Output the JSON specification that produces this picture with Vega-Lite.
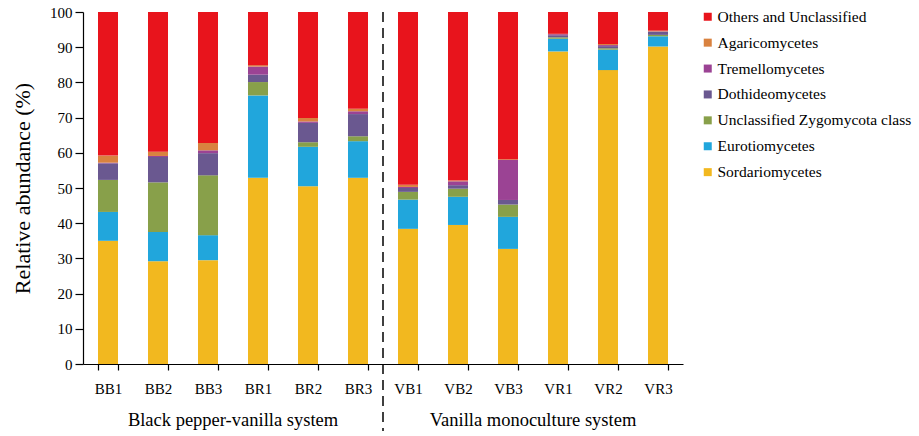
{
  "$schema": "https://vega.github.io/schema/vega-lite/v6.json",
  "autosize": "none",
  "width": 600,
  "height": 352,
  "padding": {"left": 83, "top": 12, "right": 236, "bottom": 72},
  "background": "white",
  "config": {
    "view": {"stroke": null},
    "font": "Liberation Serif",
    "axis": {"labelFont": "Liberation Serif", "titleFont": "Liberation Serif", "domainColor": "black", "tickColor": "black", "labelColor": "black", "titleColor": "black", "grid": false},
    "axisY": {"title": "Relative abundance  (%)", "titleFontSize": 22, "titleFontWeight": "normal", "labelFontSize": 15, "labelOverlap": false, "tickSize": 8, "labelPadding": 3, "titlePadding": 15, "domainWidth": 1.2, "tickWidth": 1.2},
    "legend": {"labelFont": "Liberation Serif"}
  },
  "datasets": {
    "ab": [
      {"s":"BB1","c":"Sordariomycetes","v":35.0,"k":1},{"s":"BB1","c":"Eurotiomycetes","v":8.2,"k":2},{"s":"BB1","c":"Unclassified Zygomycota class","v":9.1,"k":3},{"s":"BB1","c":"Dothideomycetes","v":4.7,"k":4},{"s":"BB1","c":"Tremellomycetes","v":0.2,"k":5},{"s":"BB1","c":"Agaricomycetes","v":2.0,"k":6},{"s":"BB1","c":"Others and Unclassified","v":40.8,"k":7},
      {"s":"BB2","c":"Sordariomycetes","v":29.2,"k":1},{"s":"BB2","c":"Eurotiomycetes","v":8.3,"k":2},{"s":"BB2","c":"Unclassified Zygomycota class","v":14.1,"k":3},{"s":"BB2","c":"Dothideomycetes","v":7.2,"k":4},{"s":"BB2","c":"Tremellomycetes","v":0.3,"k":5},{"s":"BB2","c":"Agaricomycetes","v":1.2,"k":6},{"s":"BB2","c":"Others and Unclassified","v":39.7,"k":7},
      {"s":"BB3","c":"Sordariomycetes","v":29.5,"k":1},{"s":"BB3","c":"Eurotiomycetes","v":7.1,"k":2},{"s":"BB3","c":"Unclassified Zygomycota class","v":17.0,"k":3},{"s":"BB3","c":"Dothideomycetes","v":6.3,"k":4},{"s":"BB3","c":"Tremellomycetes","v":0.8,"k":5},{"s":"BB3","c":"Agaricomycetes","v":2.1,"k":6},{"s":"BB3","c":"Others and Unclassified","v":37.2,"k":7},
      {"s":"BR1","c":"Sordariomycetes","v":52.9,"k":1},{"s":"BR1","c":"Eurotiomycetes","v":23.4,"k":2},{"s":"BR1","c":"Unclassified Zygomycota class","v":3.8,"k":3},{"s":"BR1","c":"Dothideomycetes","v":2.1,"k":4},{"s":"BR1","c":"Tremellomycetes","v":2.3,"k":5},{"s":"BR1","c":"Agaricomycetes","v":0.4,"k":6},{"s":"BR1","c":"Others and Unclassified","v":15.1,"k":7},
      {"s":"BR2","c":"Sordariomycetes","v":50.5,"k":1},{"s":"BR2","c":"Eurotiomycetes","v":11.2,"k":2},{"s":"BR2","c":"Unclassified Zygomycota class","v":1.3,"k":3},{"s":"BR2","c":"Dothideomycetes","v":5.5,"k":4},{"s":"BR2","c":"Tremellomycetes","v":0.4,"k":5},{"s":"BR2","c":"Agaricomycetes","v":1.0,"k":6},{"s":"BR2","c":"Others and Unclassified","v":30.1,"k":7},
      {"s":"BR3","c":"Sordariomycetes","v":52.9,"k":1},{"s":"BR3","c":"Eurotiomycetes","v":10.4,"k":2},{"s":"BR3","c":"Unclassified Zygomycota class","v":1.4,"k":3},{"s":"BR3","c":"Dothideomycetes","v":6.3,"k":4},{"s":"BR3","c":"Tremellomycetes","v":0.8,"k":5},{"s":"BR3","c":"Agaricomycetes","v":0.7,"k":6},{"s":"BR3","c":"Others and Unclassified","v":27.5,"k":7},
      {"s":"VB1","c":"Sordariomycetes","v":38.4,"k":1},{"s":"VB1","c":"Eurotiomycetes","v":8.3,"k":2},{"s":"VB1","c":"Unclassified Zygomycota class","v":2.2,"k":3},{"s":"VB1","c":"Dothideomycetes","v":1.1,"k":4},{"s":"VB1","c":"Tremellomycetes","v":0.3,"k":5},{"s":"VB1","c":"Agaricomycetes","v":0.6,"k":6},{"s":"VB1","c":"Others and Unclassified","v":49.1,"k":7},
      {"s":"VB2","c":"Sordariomycetes","v":39.5,"k":1},{"s":"VB2","c":"Eurotiomycetes","v":8.0,"k":2},{"s":"VB2","c":"Unclassified Zygomycota class","v":2.3,"k":3},{"s":"VB2","c":"Dothideomycetes","v":1.0,"k":4},{"s":"VB2","c":"Tremellomycetes","v":1.1,"k":5},{"s":"VB2","c":"Agaricomycetes","v":0.2,"k":6},{"s":"VB2","c":"Others and Unclassified","v":47.9,"k":7},
      {"s":"VB3","c":"Sordariomycetes","v":32.7,"k":1},{"s":"VB3","c":"Eurotiomycetes","v":9.1,"k":2},{"s":"VB3","c":"Unclassified Zygomycota class","v":3.5,"k":3},{"s":"VB3","c":"Dothideomycetes","v":1.3,"k":4},{"s":"VB3","c":"Tremellomycetes","v":11.4,"k":5},{"s":"VB3","c":"Agaricomycetes","v":0.2,"k":6},{"s":"VB3","c":"Others and Unclassified","v":41.8,"k":7},
      {"s":"VR1","c":"Sordariomycetes","v":88.8,"k":1},{"s":"VR1","c":"Eurotiomycetes","v":3.6,"k":2},{"s":"VR1","c":"Unclassified Zygomycota class","v":0.4,"k":3},{"s":"VR1","c":"Dothideomycetes","v":0.6,"k":4},{"s":"VR1","c":"Tremellomycetes","v":0.3,"k":5},{"s":"VR1","c":"Agaricomycetes","v":0.1,"k":6},{"s":"VR1","c":"Others and Unclassified","v":6.2,"k":7},
      {"s":"VR2","c":"Sordariomycetes","v":83.5,"k":1},{"s":"VR2","c":"Eurotiomycetes","v":5.8,"k":2},{"s":"VR2","c":"Unclassified Zygomycota class","v":0.4,"k":3},{"s":"VR2","c":"Dothideomycetes","v":0.6,"k":4},{"s":"VR2","c":"Tremellomycetes","v":0.3,"k":5},{"s":"VR2","c":"Agaricomycetes","v":0.3,"k":6},{"s":"VR2","c":"Others and Unclassified","v":9.1,"k":7},
      {"s":"VR3","c":"Sordariomycetes","v":90.2,"k":1},{"s":"VR3","c":"Eurotiomycetes","v":2.9,"k":2},{"s":"VR3","c":"Unclassified Zygomycota class","v":0.4,"k":3},{"s":"VR3","c":"Dothideomycetes","v":0.9,"k":4},{"s":"VR3","c":"Tremellomycetes","v":0.1,"k":5},{"s":"VR3","c":"Agaricomycetes","v":0.2,"k":6},{"s":"VR3","c":"Others and Unclassified","v":5.3,"k":7}
    ],
    "grp": [
      {"s":"BB3","t":"Black pepper-vanilla system"},
      {"s":"VB3","t":"Vanilla monoculture system"}
    ],
    "div": [{"s":"BR3"}]
  },
  "encoding": {
    "x": {
      "field": "s", "type": "nominal",
      "sort": ["BB1","BB2","BB3","BR1","BR2","BR3","VB1","VB2","VB3","VR1","VR2","VR3"],
      "scale": {"paddingInner": 0.6, "paddingOuter": 0.3},
      "axis": {"title": null, "labelAngle": 0, "labelFontSize": 15, "tickBand": "extent", "tickSize": 6, "labelPadding": 11, "domainWidth": 1.2, "tickWidth": 1.2}
    }
  },
  "layer": [
    {
      "data": {"name": "ab"},
      "mark": {"type": "bar"},
      "encoding": {
        "y": {
          "field": "v", "type": "quantitative", "stack": "zero",
          "scale": {"domain": [0, 100], "nice": false},
          "axis": {"title": "Relative abundance  (%)", "values": [0,10,20,30,40,50,60,70,80,90,100]}
        },
        "color": {
          "field": "c", "type": "nominal",
          "scale": {
            "domain": ["Others and Unclassified","Agaricomycetes","Tremellomycetes","Dothideomycetes","Unclassified Zygomycota class","Eurotiomycetes","Sordariomycetes"],
            "range": ["#E8141C","#D9823F","#9B4394","#6A5890","#88A04A","#21A6DC","#F2B81F"]
          },
          "legend": {"title": null, "orient": "none", "legendX": 617, "legendY": -3, "symbolType": "square", "symbolSize": 64, "symbolStrokeWidth": 0, "labelFontSize": 15.5, "rowPadding": 8.9, "labelOffset": 2, "labelLimit": 300}
        },
        "order": {"field": "k", "type": "quantitative", "sort": "ascending"}
      }
    },
    {
      "data": {"name": "div"},
      "mark": {"type": "rule", "strokeDash": [10, 6], "strokeWidth": 1.5, "color": "black"},
      "encoding": {
        "x": {"field": "s", "type": "nominal", "bandPosition": 1.75},
        "y": {"datum": 100, "type": "quantitative", "axis": {"title": "Relative abundance  (%)", "values": [0,10,20,30,40,50,60,70,80,90,100]}},
        "y2": {"datum": -19}
      }
    },
    {
      "data": {"name": "grp"},
      "mark": {"type": "text", "fontSize": 18.5, "baseline": "middle", "align": "center", "color": "black"},
      "encoding": {
        "x": {"field": "s", "type": "nominal", "bandPosition": 1.75},
        "y": {"datum": -16, "type": "quantitative", "axis": {"title": "Relative abundance  (%)", "values": [0,10,20,30,40,50,60,70,80,90,100]}},
        "text": {"field": "t"}
      }
    }
  ]
}
